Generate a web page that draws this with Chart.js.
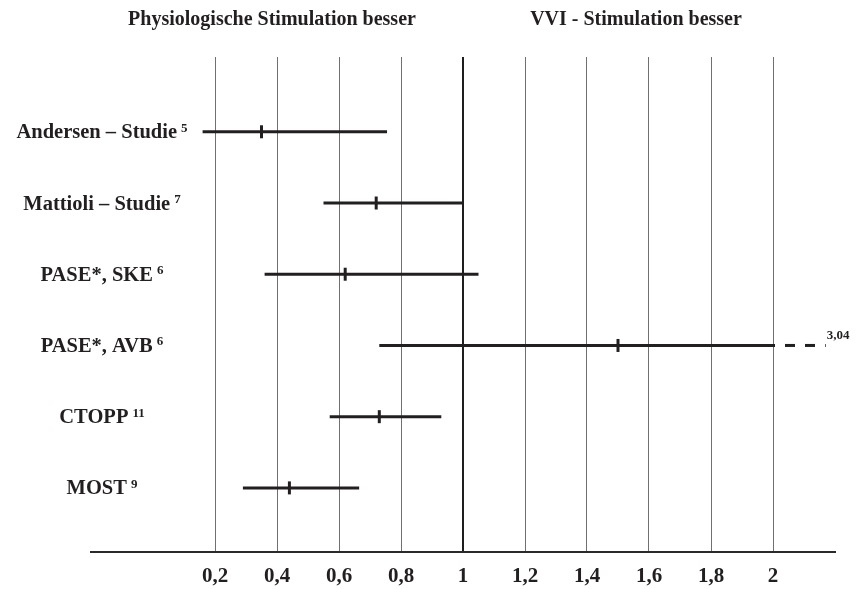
<!DOCTYPE html>
<html>
<head>
<meta charset="utf-8">
<script src="https://cdn.jsdelivr.net/npm/chart.js@4.4.0/dist/chart.umd.min.js"></script>
<style>
  html, body { margin: 0; padding: 0; background: #fff; }
</style>
</head>
<body>
<canvas id="myChart" width="866" height="589"></canvas>
<script>
// data
const studies = ["Andersen – Studie", "Mattioli – Studie", "PASE*, SKE", "PASE*, AVB", "CTOPP", "MOST"];
const refs = ["5", "7", "6", "6", "11", "9"];
const estimates = [0.35, 0.72, 0.62, 1.5, 0.73, 0.44];
const lowerCI = [0.16, 0.55, 0.36, 0.73, 0.57, 0.29];
const upperCI = [0.755, 1.0, 1.05, 3.04, 0.93, 0.665];
const tickValues = [0.2, 0.4, 0.6, 0.8, 1, 1.2, 1.4, 1.6, 1.8, 2];
const headers = ["Physiologische Stimulation besser", "VVI - Stimulation besser"];

const xMin = -0.2, xMax = 2.2;
const clipAt = 2.0;   // upper limits past this get a dashed tail
const tailEnd = 2.17;
const ink = "#231f20";
const serif = '"Liberation Serif", "Times New Roman", serif';

let datasets = [];
studies.forEach(function (name, i) {
  datasets.push({
    data: [{ x: lowerCI[i], y: i }, { x: Math.min(upperCI[i], clipAt), y: i }],
    showLine: true,
    borderColor: ink,
    borderWidth: 3,
    pointRadius: 0
  });
  if (upperCI[i] > clipAt) {
    datasets.push({
      data: [{ x: clipAt, y: i }, { x: tailEnd, y: i }],
      showLine: true,
      borderColor: ink,
      borderWidth: 3,
      borderDash: [10, 10],
      borderDashOffset: 8,
      pointRadius: 0
    });
  }
});
datasets.push({
  data: estimates.map(function (v, i) { return { x: v, y: i }; }),
  showLine: false,
  pointStyle: "line",
  rotation: 90,
  pointRadius: 6.5,
  pointBorderWidth: 3,
  borderColor: ink,
  backgroundColor: ink
});

const annotate = {
  id: "annotate",
  afterDraw: function (chart) {
    const ctx = chart.ctx;
    const xs = chart.scales.x, ys = chart.scales.y;
    ctx.save();
    ctx.fillStyle = ink;
    ctx.textBaseline = "alphabetic";
    ctx.textAlign = "center";
    ctx.font = "bold 20px " + serif;
    ctx.fillText(headers[0], 272, 25);
    ctx.fillText(headers[1], 636, 25);

    ctx.textAlign = "left";
    studies.forEach(function (name, i) {
      const y = ys.getPixelForValue(i);
      ctx.font = "bold 20.5px " + serif;
      const w1 = ctx.measureText(name).width;
      ctx.font = "bold 13px " + serif;
      const w2 = ctx.measureText(refs[i]).width;
      const left = 102 - (w1 + 4 + w2) / 2;
      ctx.font = "bold 20.5px " + serif;
      ctx.fillText(name, left, y + 6.5);
      ctx.font = "bold 13px " + serif;
      ctx.fillText(refs[i], left + w1 + 4, y);
      if (upperCI[i] > clipAt) {
        ctx.fillText(String(upperCI[i]).replace(".", ","), xs.getPixelForValue(tailEnd) + 1, y - 6);
      }
    });
    ctx.restore();
  }
};

new Chart("myChart", {
  type: "scatter",
  data: { datasets: datasets },
  plugins: [annotate],
  options: {
    responsive: false,
    animation: false,
    layout: { padding: { left: 91, right: 31, top: 57, bottom: 0 } },
    plugins: {
      legend: { display: false },
      tooltip: { enabled: false }
    },
    scales: {
      x: {
        type: "linear",
        min: xMin,
        max: xMax,
        afterBuildTicks: function (scale) {
          scale.ticks = tickValues.map(function (v) { return { value: v }; });
        },
        afterFit: function (scale) { scale.height = 37; },
        grid: {
          drawTicks: false,
          color: function (c) { return c.tick && c.tick.value === 1 ? "#1e1e1e" : "#707070"; },
          lineWidth: function (c) { return c.tick && c.tick.value === 1 ? 2 : 1; }
        },
        border: { display: true, color: "#2a2a2a", width: 2 },
        ticks: {
          padding: 12,
          color: ink,
          font: { family: serif, size: 21, weight: "bold" },
          callback: function (v) { return String(v).replace(".", ","); }
        }
      },
      y: {
        type: "linear",
        min: -1.05,
        max: 5.9,
        reverse: true,
        display: false
      }
    }
  }
});
</script>
</body>
</html>
